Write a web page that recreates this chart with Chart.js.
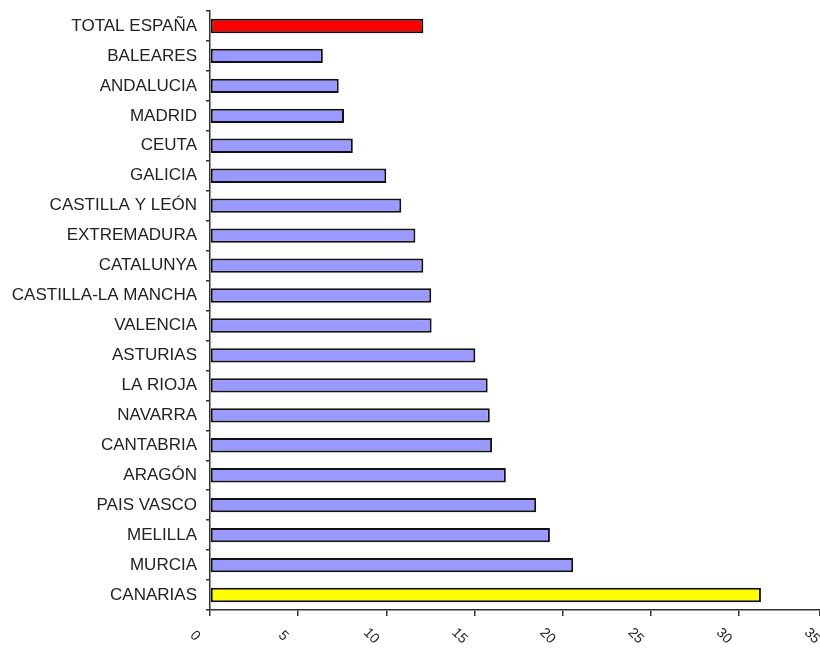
<!DOCTYPE html>
<html>
<head>
<meta charset="utf-8">
<script src="https://cdn.jsdelivr.net/npm/chart.js@4.4.0/dist/chart.umd.min.js"></script>
<style>
  html, body { margin: 0; padding: 0; background: #fff; }
  #wrap { width: 820px; height: 651px; position: relative; }
</style>
</head>
<body>
<div id="wrap"><canvas id="myChart"></canvas></div>
<script>
// data
let regions=['TOTAL ESPAÑA','BALEARES','ANDALUCIA','MADRID','CEUTA','GALICIA','CASTILLA Y LEÓN','EXTREMADURA','CATALUNYA','CASTILLA-LA MANCHA','VALENCIA','ASTURIAS','LA RIOJA','NAVARRA','CANTABRIA','ARAGÓN','PAIS VASCO','MELILLA','MURCIA','CANARIAS']
let values=[12.1,6.4,7.3,7.6,8.1,10.0,10.85,11.65,12.1,12.55,12.57,15.05,15.75,15.87,16.0,16.78,18.5,19.28,20.6,31.25]
let xTicks=[0,5,10,15,20,25,30,35]

let barColors=regions.map(function(r){
    if(r=='TOTAL ESPAÑA') return '#ff0000';
    if(r=='CANARIAS') return '#ffff00';
    return '#9999ff';
});

// x labels drawn rotated clockwise like the original
const xLabelPlugin={
    id:'xLabels',
    afterDraw(chart){
        const ctx=chart.ctx;
        const scale=chart.scales.x;
        ctx.save();
        ctx.font='14px "Liberation Sans", Arial, sans-serif';
        ctx.fillStyle='#222';
        ctx.textAlign='center';
        ctx.textBaseline='middle';
        xTicks.forEach(function(v){
            let px=scale.getPixelForValue(v);
            ctx.save();
            ctx.translate(px-15,636);
            ctx.rotate(Math.PI/4);
            ctx.fillText(String(v),0,0);
            ctx.restore();
        });
        ctx.restore();
    }
};

var ctx = document.getElementById('myChart').getContext('2d');
var myChart = new Chart(ctx, {
    type: 'bar',
    data: {
        labels: regions,
        datasets: [{
            data: values,
            backgroundColor: barColors,
            borderColor: '#111',
            borderWidth: 2,
            borderSkipped: false,
            barPercentage: 0.48,
            categoryPercentage: 1
        }]
    },
    options: {
        indexAxis: 'y',
        responsive: true,
        maintainAspectRatio: false,
        animation: false,
        layout: { padding: { top: 11, right: 0, bottom: 35, left: 0 } },
        plugins: {
            legend: { display: false },
            tooltip: { enabled: false }
        },
        scales: {
            x: {
                min: 0,
                max: 34.6,
                ticks: { display: false, stepSize: 5 },
                grid: { drawOnChartArea: false, tickLength: 6, color: '#333', lineWidth: 1.5 },
                border: { color: '#333', width: 1.5 }
            },
            y: {
                afterFit(scale){
                    scale.width = 210;
                    scale.paddingTop = 0;
                    scale.paddingBottom = 0;
                },
                ticks: {
                    color: '#222',
                    padding: 9,
                    autoSkip: false,
                    font: { family: '"Liberation Sans", Arial, sans-serif', size: 17 }
                },
                grid: { drawOnChartArea: false, tickLength: 4, color: '#333', lineWidth: 1.5 },
                border: { color: '#333', width: 1.5 }
            }
        }
    },
    plugins: [xLabelPlugin]
});
</script>
</body>
</html>
